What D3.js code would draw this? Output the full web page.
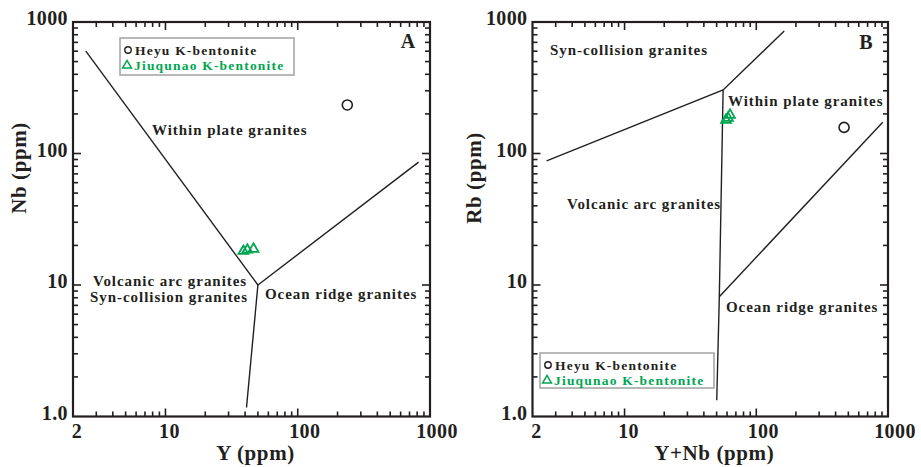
<!DOCTYPE html>
<html>
<head>
<meta charset="utf-8">
<script src="https://cdn.jsdelivr.net/npm/d3@7/dist/d3.min.js"></script>
<style>
  html, body { margin: 0; padding: 0; background: #fff; }
  svg text { font-family: "Liberation Serif", "Times New Roman", serif; font-weight: bold; }
</style>
</head>
<body>
<svg id="chart" width="921" height="467"></svg>
<script>
// ---- Data ----
const xTickValues = [2, 10, 100, 1000];
const xTickLabels = ["2", "10", "100", "1000"];
const yTickValues = [1, 10, 100, 1000];
const yTickLabels = ["1.0", "10", "100", "1000"];

// Panel A: Nb vs Y discrimination boundaries
const boundaryA1 = [[2.5, 600], [50, 10]];
const boundaryA2 = [[50, 10], [820, 86]];
const boundaryA3 = [[50, 10], [41, 1.17]];
const heyuA = [[237, 234]];
const jiuqunaoA = [[38.8, 18.1], [41.6, 18.5], [46.3, 18.8]];

// Panel B: Rb vs Y+Nb discrimination boundaries
const boundaryB1 = [[2.56, 88], [56, 304], [163, 855]];
const boundaryB2 = [[56, 304], [52.4, 8.15], [50.1, 1.33]];
const boundaryB3 = [[52.4, 8.15], [912, 173]];
const heyuB = [[464, 158]];
const jiuqunaoB = [[58.9, 180], [61, 186], [63.2, 196]];

const seriesNames = ["Heyu K-bentonite", "Jiuqunao K-bentonite"];
const GREEN = "#00a650";
const INK = "#231f20";

const svg = d3.select("#chart");

function panel(cfg) {
  const x = d3.scaleLog().domain([2, 1000]).range([cfg.left, cfg.right]);
  const y = d3.scaleLog().domain([1, 1000]).range([416.5, 22]);
  const g = svg.append("g");

  // minor ticks: 2..9 of each decade
  const xMinor = [];
  [1, 10, 100].forEach(d => { for (let k = 2; k <= 9; k++) { const v = d * k; if (v > 2 && v < 1000) xMinor.push(v); } });
  const yMinor = [];
  [1, 10, 100].forEach(d => { for (let k = 2; k <= 9; k++) yMinor.push(d * k); });

  const top = y(1000), bot = y(1), L = x(2), R = x(1000);
  const tickG = g.append("g").attr("stroke", INK).attr("stroke-width", 1.6);
  const majLen = 8, minLen = 5;
  xMinor.concat([10, 100]).forEach(v => {
    const len = (v === 10 || v === 100) ? majLen : minLen;
    tickG.append("line").attr("x1", x(v)).attr("x2", x(v)).attr("y1", bot).attr("y2", bot - len);
    tickG.append("line").attr("x1", x(v)).attr("x2", x(v)).attr("y1", top).attr("y2", top + len);
  });
  yMinor.concat([10, 100]).forEach(v => {
    const len = (v === 10 || v === 100) ? majLen : minLen;
    tickG.append("line").attr("x1", L).attr("x2", L + len).attr("y1", y(v)).attr("y2", y(v));
    tickG.append("line").attr("x1", R).attr("x2", R - len).attr("y1", y(v)).attr("y2", y(v));
  });

  // frame
  g.append("rect").attr("x", L).attr("y", top).attr("width", R - L).attr("height", bot - top)
    .attr("fill", "none").attr("stroke", INK).attr("stroke-width", 2.2);

  // tick labels
  g.selectAll(".xl").data(xTickValues).enter().append("text")
    .attr("x", d => x(d) + (d >= 100 ? 7 : 4)).attr("y", 438)
    .attr("text-anchor", "middle").attr("font-size", 20).attr("letter-spacing", 0.4).attr("fill", INK)
    .text((d, i) => xTickLabels[i]);
  g.selectAll(".yl").data(yTickValues).enter().append("text")
    .attr("x", L - 5).attr("y", d => y(d) + 3)
    .attr("text-anchor", "end").attr("font-size", 20).attr("letter-spacing", 0.4).attr("fill", INK)
    .text((d, i) => yTickLabels[i]);

  // axis titles
  g.append("text").attr("x", (L + R) / 2 + 4).attr("y", 460).attr("text-anchor", "middle")
    .attr("font-size", 21).attr("letter-spacing", 0.6).attr("fill", INK).text(cfg.xTitle);
  g.append("text").attr("transform", `translate(${cfg.yTitleX},${cfg.yTitleY}) rotate(-90)`)
    .attr("text-anchor", "middle").attr("font-size", 21).attr("letter-spacing", 0.6).attr("fill", INK).text(cfg.yTitle);

  // boundaries
  const line = d3.line().x(d => x(d[0])).y(d => y(d[1]));
  cfg.boundaries.forEach(b => {
    g.append("path").attr("d", line(b)).attr("fill", "none").attr("stroke", INK).attr("stroke-width", 1.4);
  });

  // field labels
  cfg.labels.forEach(l => {
    g.append("text").attr("x", l.x).attr("y", l.y).attr("font-size", 15).attr("fill", INK)
      .attr("letter-spacing", 0.95).text(l.t);
  });
  g.append("text").attr("x", cfg.letter.x).attr("y", cfg.letter.y).attr("text-anchor", "middle")
    .attr("font-size", 20).attr("fill", INK).text(cfg.letter.t);

  // data points
  const tri = d3.symbol().type(d3.symbolTriangle).size(42);
  g.selectAll(".tri").data(cfg.tri).enter().append("path")
    .attr("d", tri).attr("transform", d => `translate(${x(d[0])},${y(d[1])})`)
    .attr("fill", "none").attr("stroke", GREEN).attr("stroke-width", 1.8);
  g.selectAll(".circ").data(cfg.circ).enter().append("circle")
    .attr("cx", d => x(d[0])).attr("cy", d => y(d[1])).attr("r", 5)
    .attr("fill", "none").attr("stroke", INK).attr("stroke-width", 1.6);

  // legend
  const lg = cfg.legend;
  g.append("rect").attr("x", lg.x).attr("y", lg.y).attr("width", lg.w).attr("height", lg.h)
    .attr("fill", "#fff").attr("stroke", "#a7a7a7").attr("stroke-width", 1.6);
  g.append("circle").attr("cx", lg.x + 8).attr("cy", lg.y + 12).attr("r", 3.2)
    .attr("fill", "none").attr("stroke", INK).attr("stroke-width", 1.4);
  g.append("text").attr("x", lg.x + 15).attr("y", lg.y + 16.5).attr("font-size", 13.5)
    .attr("letter-spacing", 1.2).attr("fill", INK).text(seriesNames[0]);
  g.append("path").attr("d", d3.symbol().type(d3.symbolTriangle).size(34))
    .attr("transform", `translate(${lg.x + 7},${lg.y + 27.5})`)
    .attr("fill", "none").attr("stroke", GREEN).attr("stroke-width", 1.5);
  g.append("text").attr("x", lg.x + 14).attr("y", lg.y + 32).attr("font-size", 13.5)
    .attr("letter-spacing", 1.2).attr("fill", GREEN).text(seriesNames[1]);
}

panel({
  left: 73, right: 430,
  xTitle: "Y (ppm)", yTitle: "Nb (ppm)", yTitleX: 26, yTitleY: 168,
  boundaries: [boundaryA1, boundaryA2, boundaryA3],
  labels: [
    { t: "Within plate granites", x: 152, y: 135 },
    { t: "Volcanic arc granites", x: 93, y: 286 },
    { t: "Syn-collision granites", x: 90, y: 302 },
    { t: "Ocean ridge granites", x: 265, y: 299 }
  ],
  letter: { t: "A", x: 408, y: 48 },
  tri: jiuqunaoA, circ: heyuA,
  legend: { x: 120, y: 38, w: 174, h: 37 }
});

panel({
  left: 532.5, right: 888,
  xTitle: "Y+Nb (ppm)", yTitle: "Rb (ppm)", yTitleX: 481, yTitleY: 178,
  boundaries: [boundaryB1, boundaryB2, boundaryB3],
  labels: [
    { t: "Syn-collision granites", x: 550, y: 55 },
    { t: "Within plate granites", x: 728, y: 106 },
    { t: "Volcanic arc granites", x: 567, y: 209 },
    { t: "Ocean ridge granites", x: 726, y: 312 }
  ],
  letter: { t: "B", x: 866, y: 49 },
  tri: jiuqunaoB, circ: heyuB,
  legend: { x: 540, y: 353, w: 174, h: 35 }
});
</script>
</body>
</html>
